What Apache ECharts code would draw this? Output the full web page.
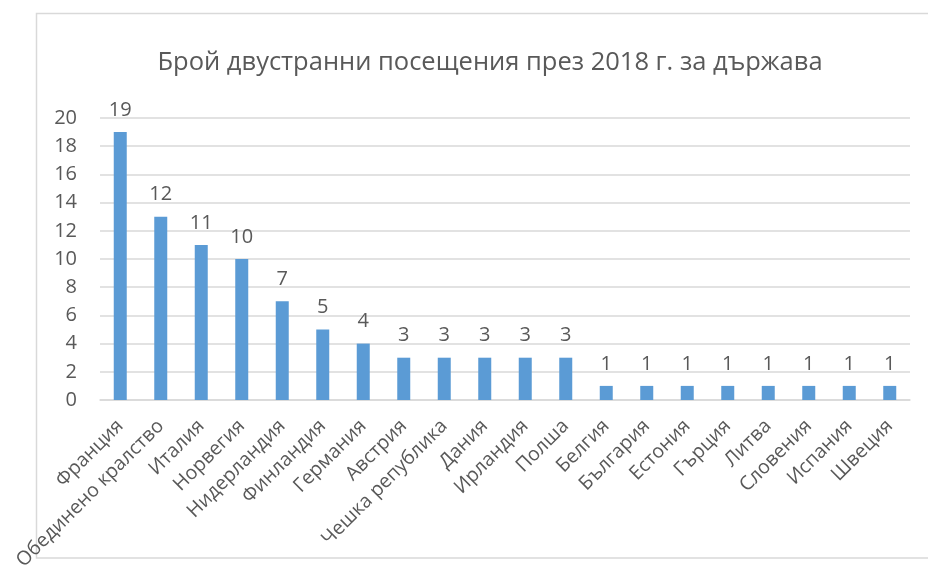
<!DOCTYPE html>
<html><head><meta charset="utf-8">
<script src="https://cdn.jsdelivr.net/npm/echarts@6/dist/echarts.min.js"></script>
<style>html,body{margin:0;padding:0;background:#fff}#c{width:928px;height:569px}</style>
</head><body><div id="c"></div>
<script>
const title = 'Брой двустранни посещения през 2018 г. за държава';
const categories = ['Франция','Обединено кралство','Италия','Норвегия','Нидерландия','Финландия','Германия','Австрия','Чешка република','Дания','Ирландия','Полша','Белгия','България','Естония','Гърция','Литва','Словения','Испания','Швеция'];
const values = [19,13,11,10,7,5,4,3,3,3,3,3,1,1,1,1,1,1,1,1];
const labelTexts = ['19','12','11','10','7','5','4','3','3','3','3','3','1','1','1','1','1','1','1','1'];
const yTicks = {min:0, max:20, interval:2};

const font = '"Open Sans", "Noto Sans", sans-serif';
const chart = echarts.init(document.getElementById('c'), null, {renderer:'canvas'});
chart.setOption({
  animation:false,
  backgroundColor:'#fff',
  graphic:[{type:'rect', silent:true, z:-1, shape:{x:36.5,y:13.5,width:1000,height:544.5}, style:{fill:'none', stroke:'#d9d9d9', lineWidth:1.5}}],
  title:{text:title, left:485, top:45, textAlign:'center', textStyle:{fontFamily:font, fontSize:25.5, fontWeight:'normal', color:'#595959'}},
  grid:{left:100, right:18, top:118, bottom:169, containLabel:false, outerBoundsMode:'none'},
  xAxis:{type:'category', data:categories,
    axisLine:{show:true, lineStyle:{color:'#d9d9d9', width:1.5}}, axisTick:{show:false},
    axisLabel:{interval:0, rotate:45, margin:23, fontFamily:font, fontSize:19.5, color:'#595959'}},
  yAxis:{type:'value', min:yTicks.min, max:yTicks.max, interval:yTicks.interval,
    axisLine:{show:false}, axisTick:{show:false},
    splitLine:{lineStyle:{color:'#d9d9d9', width:1.5}},
    axisLabel:{margin:23, fontFamily:font, fontSize:20, color:'#595959'}},
  series:[{type:'bar', data:values, barWidth:13, itemStyle:{color:'#5B9BD5'},
    label:{show:true, position:'top', distance:12, fontFamily:font, fontSize:20, color:'#595959',
      formatter:p=>labelTexts[p.dataIndex]}}]
});
</script></body></html>
